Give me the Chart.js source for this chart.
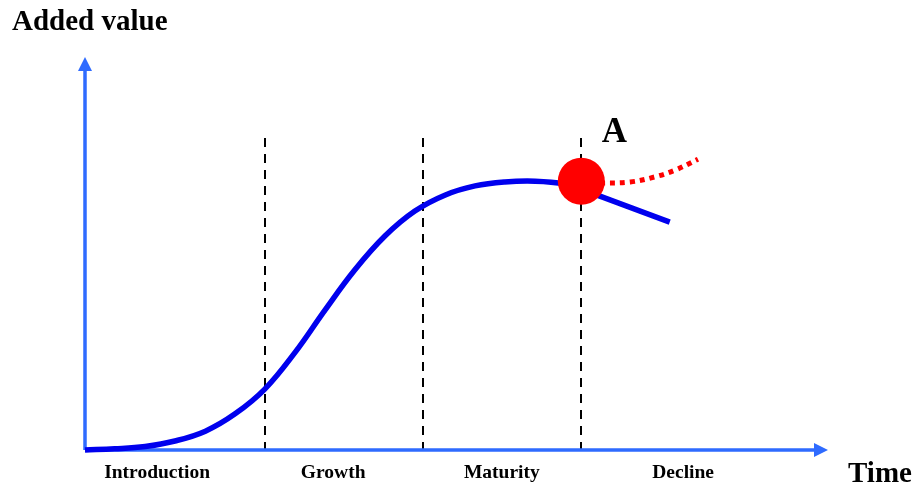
<!DOCTYPE html>
<html>
<head>
<meta charset="utf-8">
<script src="https://cdn.jsdelivr.net/npm/chart.js@4.4.0/dist/chart.umd.min.js"></script>
<style>
  html, body { margin: 0; padding: 0; background: #fff; }
  #wrap { width: 919px; height: 487px; }
</style>
</head>
<body>
<div id="wrap"><canvas id="lifeCycle"></canvas></div>
<script>
// 數據 (time 0-100, added value 0-100)
const curveX = [0, 4.0, 8.1, 12.1, 16.2, 20.2, 24.2, 28.3, 32.3, 36.3, 40.4, 44.4, 48.5, 52.5, 56.5, 60.6, 64.6, 66.8, 69.3, 74.0, 78.7];
const curveY = [0, 0.3, 0.9, 2.3, 4.8, 9.2, 15.5, 24.9, 35.6, 45.8, 54.5, 60.8, 64.9, 67.2, 68.2, 68.4, 67.7, 66.4, 64.6, 61.3, 58.0];
const renewX = [69.3, 73.4, 76.7, 79.4, 82.5];
const renewY = [67.9, 68.2, 69.5, 71.2, 74.0];
const pointA = { x: 66.8, y: 68.4, label: 'A' };
const phaseNames = ['Introduction', 'Growth', 'Maturity', 'Decline'];
const phaseCenters = [9.7, 33.4, 56.1, 80.5];
const phaseBounds = [24.2, 45.5, 66.8];
const dividerTop = 79.4;
const yTitle = 'Added value';
const xTitle = 'Time';

const toPoints = (xs, ys) => xs.map((x, i) => ({ x: x, y: ys[i] }));

const axisBlue = '#2f6bff';
const serif = '"Liberation Serif", "Times New Roman", serif';

// 繪製坐標軸、分隔線與文字
const decorPlugin = {
    id: 'decor',
    beforeDatasetsDraw(chart) {
        const ctx = chart.ctx;
        const xs = chart.scales.x, ys = chart.scales.y;
        const x0 = xs.getPixelForValue(0), y0 = ys.getPixelForValue(0);
        const xEnd = xs.getPixelForValue(100), yEnd = ys.getPixelForValue(100);
        ctx.save();
        // 分隔虛線
        ctx.strokeStyle = '#000';
        ctx.lineWidth = 2;
        ctx.setLineDash([9, 7]);
        phaseBounds.forEach(b => {
            const px = Math.round(xs.getPixelForValue(b));
            ctx.beginPath();
            ctx.moveTo(px, ys.getPixelForValue(dividerTop));
            ctx.lineTo(px, y0);
            ctx.stroke();
        });
        ctx.setLineDash([]);
        // 坐標軸
        ctx.strokeStyle = axisBlue;
        ctx.fillStyle = axisBlue;
        ctx.lineWidth = 3.5;
        ctx.beginPath();
        ctx.moveTo(x0, y0);
        ctx.lineTo(x0, yEnd + 12);
        ctx.moveTo(x0, y0);
        ctx.lineTo(xEnd - 12, y0);
        ctx.stroke();
        ctx.beginPath();
        ctx.moveTo(x0, yEnd);
        ctx.lineTo(x0 - 7, yEnd + 14);
        ctx.lineTo(x0 + 7, yEnd + 14);
        ctx.closePath();
        ctx.fill();
        ctx.beginPath();
        ctx.moveTo(xEnd, y0);
        ctx.lineTo(xEnd - 14, y0 - 7);
        ctx.lineTo(xEnd - 14, y0 + 7);
        ctx.closePath();
        ctx.fill();
        ctx.restore();
    },
    afterDraw(chart) {
        const ctx = chart.ctx;
        const xs = chart.scales.x, ys = chart.scales.y;
        const y0 = ys.getPixelForValue(0);
        ctx.save();
        ctx.fillStyle = '#000';
        ctx.textBaseline = 'middle';
        ctx.textAlign = 'center';
        ctx.font = 'bold 19.5px ' + serif;
        phaseNames.forEach((name, i) => {
            ctx.fillText(name, xs.getPixelForValue(phaseCenters[i]), y0 + 23);
        });
        ctx.textAlign = 'left';
        ctx.font = 'bold 29px ' + serif;
        ctx.fillText(yTitle, 12, 23);
        ctx.fillText(xTitle, chart.width - 71, y0 + 25);
        ctx.font = 'bold 35px ' + serif;
        ctx.textAlign = 'center';
        ctx.fillText(pointA.label, xs.getPixelForValue(pointA.x) + 33, ys.getPixelForValue(pointA.y) - 48);
        ctx.restore();
    }
};

new Chart(document.getElementById('lifeCycle'), {
    type: 'line',
    data: {
        datasets: [{
            data: [{ x: pointA.x, y: pointA.y }],
            showLine: false,
            pointRadius: 23.5,
            pointBackgroundColor: '#ff0000',
            pointBorderWidth: 0
        }, {
            data: toPoints(renewX, renewY),
            borderColor: '#ff0000',
            borderWidth: 5,
            borderDash: [5, 5],
            borderCapStyle: 'butt',
            tension: 0.4,
            pointRadius: 0
        }, {
            data: toPoints(curveX, curveY),
            borderColor: '#0000ee',
            borderWidth: 5.5,
            tension: 0.4,
            pointRadius: 0
        }]
    },
    options: {
        responsive: true,
        maintainAspectRatio: false,
        animation: false,
        layout: { padding: { left: 85, right: 91, top: 57, bottom: 37 } },
        scales: {
            x: { type: 'linear', min: 0, max: 100, display: false },
            y: { type: 'linear', min: 0, max: 100, display: false }
        },
        plugins: {
            legend: { display: false },
            tooltip: { enabled: false }
        },
        clip: false
    },
    plugins: [decorPlugin]
});
</script>
</body>
</html>
